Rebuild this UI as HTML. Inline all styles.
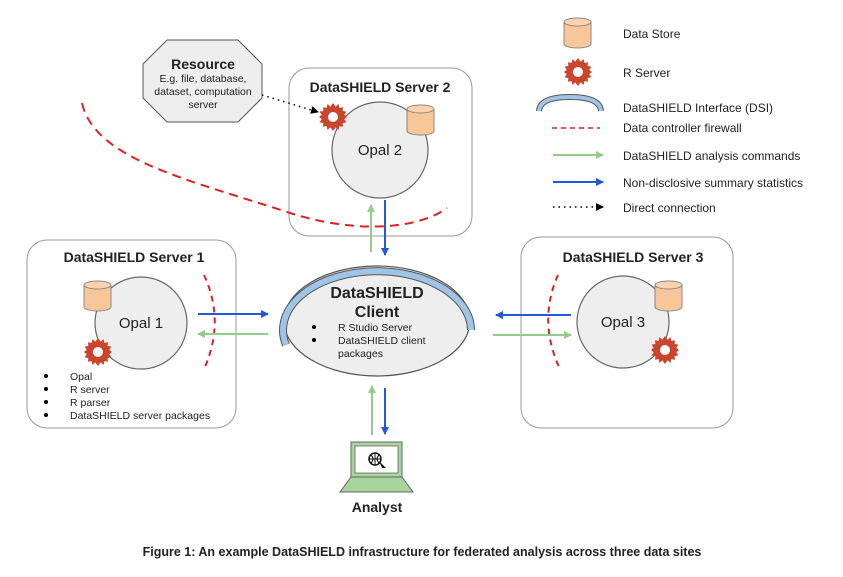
<!DOCTYPE html>
<html><head><meta charset="utf-8"><style>
html,body{margin:0;padding:0;background:#fff;}
svg{display:block;}
text{font-family:"Liberation Sans",Arial,sans-serif;fill:#222;}
</style></head><body>
<svg width="843" height="577" viewBox="0 0 843 577" xmlns="http://www.w3.org/2000/svg">
<defs>
<g id="gear">
<polygon fill="#c9462c" points="0,-14 2.7,-10.2 5.4,-13 6.5,-9 9.9,-9.9 9.7,-6 13.5,-5.4 11.3,-2.2 14,0 11.3,2.2 13.5,5.4 9.7,6 9.9,9.9 6.5,9 5.4,13 2.7,10.2 0,14 -2.7,10.2 -5.4,13 -6.5,9 -9.9,9.9 -9.7,6 -13.5,5.4 -11.3,2.2 -14,0 -11.3,-2.2 -13.5,-5.4 -9.7,-6 -9.9,-9.9 -6.5,-9 -5.4,-13 -2.7,-10.2"/>
<circle r="5" fill="#fff"/>
</g>
<g id="cyl">
<path d="M0,4 L0,26 A13.5,4 0 0 0 27,26 L27,4" fill="#f7c79a" stroke="#888" stroke-width="1"/>
<ellipse cx="13.5" cy="4" rx="13.5" ry="4" fill="#f9d3ad" stroke="#888" stroke-width="1"/>
</g>
<marker id="ab" markerWidth="8" markerHeight="8" refX="7" refY="4" orient="auto" markerUnits="userSpaceOnUse"><path d="M0,0 L8,4 L0,8z" fill="#2159d6"/></marker>
<marker id="ag" markerWidth="8" markerHeight="8" refX="7" refY="4" orient="auto" markerUnits="userSpaceOnUse"><path d="M0,0 L8,4 L0,8z" fill="#93cc8a"/></marker>
<marker id="ak" markerWidth="8" markerHeight="8" refX="7" refY="4" orient="auto" markerUnits="userSpaceOnUse"><path d="M0,0 L8,4 L0,8z" fill="#000"/></marker>
</defs>

<polygon points="167,40 238,40 262,64 262,98 238,122 167,122 143,98 143,64" fill="#eee" stroke="#555" stroke-width="1"/>
<text x="203" y="69" font-size="14" font-weight="bold" text-anchor="middle">Resource</text>
<text x="203" y="82" font-size="10.5" text-anchor="middle">E.g. file, database,</text>
<text x="203" y="95" font-size="10.5" text-anchor="middle">dataset, computation</text>
<text x="203" y="108" font-size="10.5" text-anchor="middle">server</text>

<rect x="289" y="68" width="183" height="168" rx="20" fill="#fff" stroke="#999" stroke-width="1"/>
<text x="380" y="92" font-size="14" font-weight="bold" text-anchor="middle">DataSHIELD Server 2</text>
<circle cx="380" cy="150" r="48" fill="#eee" stroke="#666" stroke-width="1.2"/>
<text x="380" y="155" font-size="15" text-anchor="middle">Opal 2</text>
<use href="#cyl" x="407" y="105"/>
<use href="#gear" x="333" y="117"/>
<line x1="262" y1="95" x2="318" y2="112" stroke="#000" stroke-width="1.5" stroke-dasharray="1.5,4" marker-end="url(#ak)"/>

<path d="M82,103 C95,160 190,180 290,213 C360,235 420,228 447,208" fill="none" stroke="#e02020" stroke-width="2" stroke-dasharray="9,6"/>

<rect x="27" y="240" width="209" height="188" rx="20" fill="#fff" stroke="#999" stroke-width="1"/>
<text x="134" y="262" font-size="14" font-weight="bold" text-anchor="middle">DataSHIELD Server 1</text>
<circle cx="141" cy="323" r="46" fill="#eee" stroke="#666" stroke-width="1.2"/>
<text x="141" y="328" font-size="15" text-anchor="middle">Opal 1</text>
<use href="#cyl" x="84" y="281"/>
<use href="#gear" x="98" y="352"/>
<path d="M204,275 Q225,320 205,367" fill="none" stroke="#e02020" stroke-width="2" stroke-dasharray="6,5"/>
<g font-size="10.5">
<circle cx="46" cy="376" r="2" fill="#000"/><text x="70" y="380">Opal</text>
<circle cx="46" cy="389" r="2" fill="#000"/><text x="70" y="393">R server</text>
<circle cx="46" cy="402" r="2" fill="#000"/><text x="70" y="406">R parser</text>
<circle cx="46" cy="415" r="2" fill="#000"/><text x="70" y="419">DataSHIELD server packages</text>
</g>
<line x1="198" y1="314" x2="268" y2="314" stroke="#2159d6" stroke-width="2" marker-end="url(#ab)"/>
<line x1="268" y1="334" x2="198" y2="334" stroke="#93cc8a" stroke-width="2" marker-end="url(#ag)"/>

<ellipse cx="377" cy="321" rx="93" ry="55" fill="#eee" stroke="#555" stroke-width="1.2"/>
<path d="M286,345 A94,59 0 1 1 471,330" fill="none" stroke="#555" stroke-width="8"/>
<path d="M286,345 A94,59 0 1 1 471,330" fill="none" stroke="#9fc4e6" stroke-width="6"/>
<text x="377" y="298" font-size="16" font-weight="bold" text-anchor="middle">DataSHIELD</text>
<text x="377" y="317" font-size="16" font-weight="bold" text-anchor="middle">Client</text>
<g font-size="10.5">
<circle cx="314" cy="327" r="2" fill="#000"/><text x="338" y="331">R Studio Server</text>
<circle cx="314" cy="340" r="2" fill="#000"/><text x="338" y="344">DataSHIELD client</text>
<text x="338" y="357">packages</text>
</g>
<line x1="371" y1="252" x2="371" y2="205" stroke="#93cc8a" stroke-width="2" marker-end="url(#ag)"/>
<line x1="385" y1="200" x2="385" y2="255" stroke="#2159d6" stroke-width="2" marker-end="url(#ab)"/>

<rect x="521" y="237" width="212" height="191" rx="20" fill="#fff" stroke="#999" stroke-width="1"/>
<text x="633" y="262" font-size="14" font-weight="bold" text-anchor="middle">DataSHIELD Server 3</text>
<circle cx="623" cy="322" r="46" fill="#eee" stroke="#666" stroke-width="1.2"/>
<text x="623" y="327" font-size="15" text-anchor="middle">Opal 3</text>
<use href="#cyl" x="655" y="281"/>
<use href="#gear" x="665" y="350"/>
<path d="M558,275 Q538,320 559,367" fill="none" stroke="#e02020" stroke-width="2" stroke-dasharray="6,5"/>
<line x1="571" y1="315" x2="496" y2="315" stroke="#2159d6" stroke-width="2" marker-end="url(#ab)"/>
<line x1="493" y1="335" x2="571" y2="335" stroke="#93cc8a" stroke-width="2" marker-end="url(#ag)"/>

<line x1="372" y1="435" x2="372" y2="386" stroke="#93cc8a" stroke-width="2" marker-end="url(#ag)"/>
<line x1="385" y1="388" x2="385" y2="434" stroke="#2159d6" stroke-width="2" marker-end="url(#ab)"/>
<rect x="351" y="442" width="51" height="35" fill="#a6d49a" stroke="#666" stroke-width="1"/>
<rect x="355" y="446" width="43" height="27" fill="#fff" stroke="#666" stroke-width="0.8"/>
<circle cx="375" cy="459" r="6" fill="none" stroke="#111" stroke-width="1.5"/>
<path d="M369,459 H381 M375,453 V465 M371,455 Q375,459 371,463 M379,455 Q375,459 379,463" fill="none" stroke="#111" stroke-width="1"/>
<path d="M379,461 L386,468 L382,468 Z" fill="#111"/>
<polygon points="351,477 402,477 413,492 340,492" fill="#a6d49a" stroke="#666" stroke-width="1"/>
<text x="377" y="512" font-size="14" font-weight="bold" text-anchor="middle">Analyst</text>

<use href="#cyl" x="564" y="18"/>
<text x="623" y="38" font-size="12">Data Store</text>
<use href="#gear" x="578" y="72"/>
<text x="623" y="77" font-size="12">R Server</text>
<path d="M539,111 Q540,97 570,97 Q600,97 601,111" fill="none" stroke="#555" stroke-width="6"/>
<path d="M539,111 Q540,97 570,97 Q600,97 601,111" fill="none" stroke="#9fc4e6" stroke-width="4"/>
<text x="623" y="112" font-size="12">DataSHIELD Interface (DSI)</text>
<line x1="552" y1="128" x2="600" y2="128" stroke="#e02020" stroke-width="1.5" stroke-dasharray="5,4"/>
<text x="623" y="132" font-size="12">Data controller firewall</text>
<line x1="553" y1="155" x2="603" y2="155" stroke="#93cc8a" stroke-width="2" marker-end="url(#ag)"/>
<text x="623" y="160" font-size="12">DataSHIELD analysis commands</text>
<line x1="553" y1="182" x2="603" y2="182" stroke="#2159d6" stroke-width="2" marker-end="url(#ab)"/>
<text x="623" y="187" font-size="12">Non-disclosive summary statistics</text>
<line x1="553" y1="207" x2="603" y2="207" stroke="#000" stroke-width="1.5" stroke-dasharray="1.5,4" marker-end="url(#ak)"/>
<text x="623" y="212" font-size="12">Direct connection</text>

<text x="422" y="556" font-size="12.5" font-weight="bold" text-anchor="middle" fill="#000">Figure 1: An example DataSHIELD infrastructure for federated analysis across three data sites</text>
</svg>
</body></html>
